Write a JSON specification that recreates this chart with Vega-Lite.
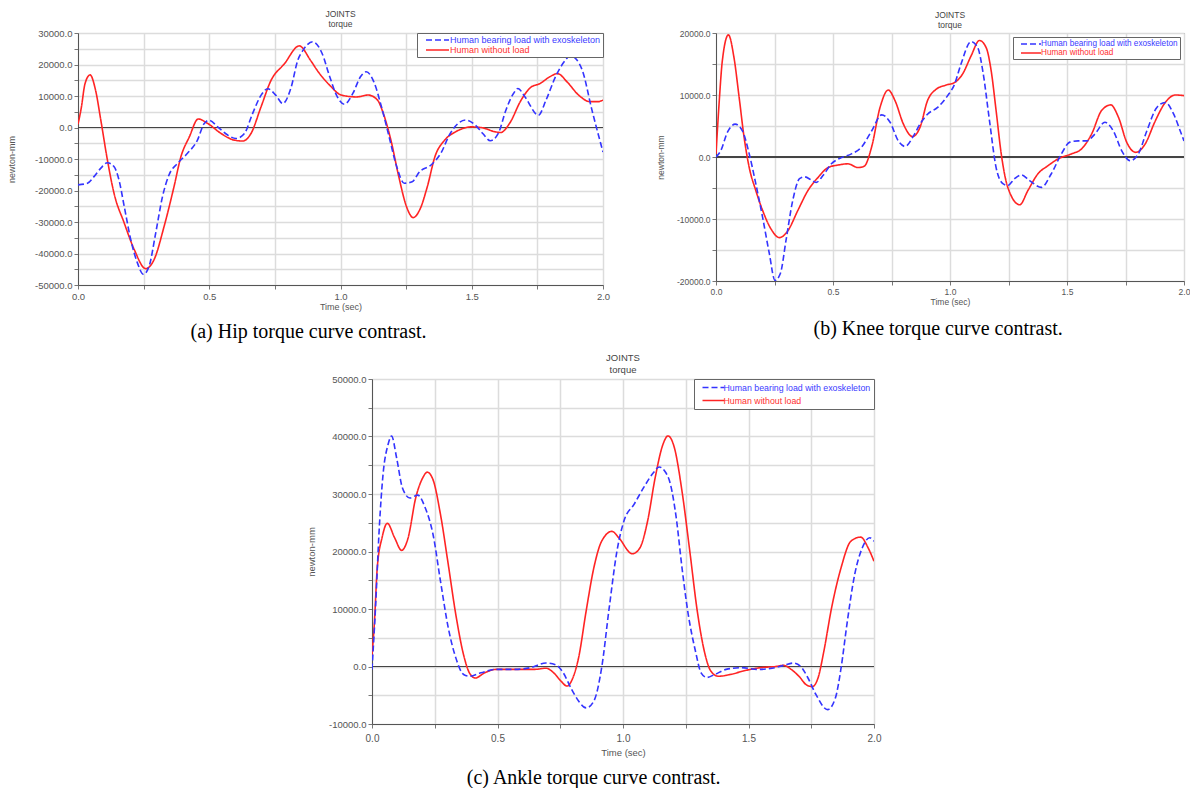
{
  "$schema": "https://vega.github.io/schema/vega-lite/v6.json",
  "background": "white",
  "padding": {"left": 6, "top": 9, "right": 0, "bottom": 0},
  "config": {
    "font": "Liberation Sans",
    "view": {"stroke": "#777", "strokeWidth": 1},
    "axis": {"labelFont": "Liberation Sans", "titleFont": "Liberation Sans", "labelColor": "#555", "titleColor": "#555", "titleFontWeight": "normal", "domainColor": "#555", "tickColor": "#777", "gridColor": "#dcdcdc", "gridWidth": 1.5, "tickSize": 4, "labelFlush": false, "labelOverlap": false, "labelPadding": 2, "grid": true},
    "legend": {"labelFont": "Liberation Sans", "title": null}
  },
  "resolve": {"scale": {"color": "independent", "strokeDash": "independent"}, "legend": {"color": "independent", "strokeDash": "independent"}},
  "datasets": {
    "hip": [
      {"t":0,"v":1000,"series":"Human without load"},{"t":0.012,"v":6000,"series":"Human without load"},{"t":0.027,"v":14000,"series":"Human without load"},{"t":0.046,"v":16700,"series":"Human without load"},{"t":0.067,"v":11800,"series":"Human without load"},{"t":0.087,"v":2300,"series":"Human without load"},{"t":0.112,"v":-10300,"series":"Human without load"},{"t":0.137,"v":-20800,"series":"Human without load"},{"t":0.176,"v":-30300,"series":"Human without load"},{"t":0.214,"v":-38700,"series":"Human without load"},{"t":0.258,"v":-44800,"series":"Human without load"},{"t":0.29,"v":-41900,"series":"Human without load"},{"t":0.328,"v":-31400,"series":"Human without load"},{"t":0.366,"v":-18700,"series":"Human without load"},{"t":0.392,"v":-9300,"series":"Human without load"},{"t":0.424,"v":-3000,"series":"Human without load"},{"t":0.458,"v":2700,"series":"Human without load"},{"t":0.494,"v":1300,"series":"Human without load"},{"t":0.545,"v":-1900,"series":"Human without load"},{"t":0.595,"v":-4000,"series":"Human without load"},{"t":0.627,"v":-4300,"series":"Human without load"},{"t":0.659,"v":-1900,"series":"Human without load"},{"t":0.697,"v":6500,"series":"Human without load"},{"t":0.735,"v":14900,"series":"Human without load"},{"t":0.786,"v":20200,"series":"Human without load"},{"t":0.843,"v":25900,"series":"Human without load"},{"t":0.886,"v":21300,"series":"Human without load"},{"t":0.915,"v":17700,"series":"Human without load"},{"t":0.959,"v":13400,"series":"Human without load"},{"t":1.003,"v":10300,"series":"Human without load"},{"t":1.061,"v":9700,"series":"Human without load"},{"t":1.105,"v":10300,"series":"Human without load"},{"t":1.141,"v":8700,"series":"Human without load"},{"t":1.163,"v":4500,"series":"Human without load"},{"t":1.192,"v":-4000,"series":"Human without load"},{"t":1.222,"v":-15600,"series":"Human without load"},{"t":1.251,"v":-25000,"series":"Human without load"},{"t":1.277,"v":-28600,"series":"Human without load"},{"t":1.302,"v":-26100,"series":"Human without load"},{"t":1.331,"v":-18700,"series":"Human without load"},{"t":1.36,"v":-9200,"series":"Human without load"},{"t":1.397,"v":-4000,"series":"Human without load"},{"t":1.44,"v":-1300,"series":"Human without load"},{"t":1.499,"v":200,"series":"Human without load"},{"t":1.542,"v":-100,"series":"Human without load"},{"t":1.586,"v":-1300,"series":"Human without load"},{"t":1.61,"v":-1600,"series":"Human without load"},{"t":1.644,"v":1300,"series":"Human without load"},{"t":1.688,"v":8700,"series":"Human without load"},{"t":1.724,"v":12700,"series":"Human without load"},{"t":1.761,"v":14000,"series":"Human without load"},{"t":1.797,"v":16100,"series":"Human without load"},{"t":1.827,"v":17100,"series":"Human without load"},{"t":1.863,"v":14500,"series":"Human without load"},{"t":1.907,"v":10300,"series":"Human without load"},{"t":1.95,"v":8200,"series":"Human without load"},{"t":1.98,"v":8200,"series":"Human without load"},{"t":2.0,"v":8700,"series":"Human without load"},
      {"t":0,"v":-18200,"series":"Human bearing load with exoskeleton"},{"t":0.036,"v":-17700,"series":"Human bearing load with exoskeleton"},{"t":0.061,"v":-15600,"series":"Human bearing load with exoskeleton"},{"t":0.087,"v":-12900,"series":"Human bearing load with exoskeleton"},{"t":0.112,"v":-11200,"series":"Human bearing load with exoskeleton"},{"t":0.137,"v":-12400,"series":"Human bearing load with exoskeleton"},{"t":0.156,"v":-16600,"series":"Human bearing load with exoskeleton"},{"t":0.176,"v":-25000,"series":"Human bearing load with exoskeleton"},{"t":0.201,"v":-35600,"series":"Human bearing load with exoskeleton"},{"t":0.226,"v":-42900,"series":"Human bearing load with exoskeleton"},{"t":0.249,"v":-46600,"series":"Human bearing load with exoskeleton"},{"t":0.271,"v":-44000,"series":"Human bearing load with exoskeleton"},{"t":0.296,"v":-33500,"series":"Human bearing load with exoskeleton"},{"t":0.322,"v":-21900,"series":"Human bearing load with exoskeleton"},{"t":0.347,"v":-15000,"series":"Human bearing load with exoskeleton"},{"t":0.379,"v":-11400,"series":"Human bearing load with exoskeleton"},{"t":0.417,"v":-8200,"series":"Human bearing load with exoskeleton"},{"t":0.455,"v":-4000,"series":"Human bearing load with exoskeleton"},{"t":0.481,"v":1300,"series":"Human bearing load with exoskeleton"},{"t":0.5,"v":2300,"series":"Human bearing load with exoskeleton"},{"t":0.532,"v":200,"series":"Human bearing load with exoskeleton"},{"t":0.57,"v":-2400,"series":"Human bearing load with exoskeleton"},{"t":0.602,"v":-3500,"series":"Human bearing load with exoskeleton"},{"t":0.634,"v":-1900,"series":"Human bearing load with exoskeleton"},{"t":0.665,"v":4400,"series":"Human bearing load with exoskeleton"},{"t":0.697,"v":10200,"series":"Human bearing load with exoskeleton"},{"t":0.723,"v":12300,"series":"Human bearing load with exoskeleton"},{"t":0.754,"v":10200,"series":"Human bearing load with exoskeleton"},{"t":0.78,"v":7600,"series":"Human bearing load with exoskeleton"},{"t":0.812,"v":12800,"series":"Human bearing load with exoskeleton"},{"t":0.837,"v":21300,"series":"Human bearing load with exoskeleton"},{"t":0.857,"v":24500,"series":"Human bearing load with exoskeleton"},{"t":0.894,"v":27200,"series":"Human bearing load with exoskeleton"},{"t":0.93,"v":23500,"series":"Human bearing load with exoskeleton"},{"t":0.959,"v":16100,"series":"Human bearing load with exoskeleton"},{"t":0.988,"v":9700,"series":"Human bearing load with exoskeleton"},{"t":1.015,"v":7400,"series":"Human bearing load with exoskeleton"},{"t":1.047,"v":10800,"series":"Human bearing load with exoskeleton"},{"t":1.076,"v":16100,"series":"Human bearing load with exoskeleton"},{"t":1.098,"v":17700,"series":"Human bearing load with exoskeleton"},{"t":1.127,"v":14500,"series":"Human bearing load with exoskeleton"},{"t":1.156,"v":6600,"series":"Human bearing load with exoskeleton"},{"t":1.185,"v":-2900,"series":"Human bearing load with exoskeleton"},{"t":1.214,"v":-12400,"series":"Human bearing load with exoskeleton"},{"t":1.243,"v":-17700,"series":"Human bearing load with exoskeleton"},{"t":1.273,"v":-17200,"series":"Human bearing load with exoskeleton"},{"t":1.302,"v":-14000,"series":"Human bearing load with exoskeleton"},{"t":1.345,"v":-11900,"series":"Human bearing load with exoskeleton"},{"t":1.382,"v":-8200,"series":"Human bearing load with exoskeleton"},{"t":1.418,"v":-1900,"series":"Human bearing load with exoskeleton"},{"t":1.448,"v":1300,"series":"Human bearing load with exoskeleton"},{"t":1.477,"v":2400,"series":"Human bearing load with exoskeleton"},{"t":1.513,"v":800,"series":"Human bearing load with exoskeleton"},{"t":1.542,"v":-1900,"series":"Human bearing load with exoskeleton"},{"t":1.571,"v":-4200,"series":"Human bearing load with exoskeleton"},{"t":1.601,"v":-1900,"series":"Human bearing load with exoskeleton"},{"t":1.63,"v":5500,"series":"Human bearing load with exoskeleton"},{"t":1.659,"v":10800,"series":"Human bearing load with exoskeleton"},{"t":1.676,"v":12400,"series":"Human bearing load with exoskeleton"},{"t":1.703,"v":9700,"series":"Human bearing load with exoskeleton"},{"t":1.754,"v":3900,"series":"Human bearing load with exoskeleton"},{"t":1.783,"v":8700,"series":"Human bearing load with exoskeleton"},{"t":1.819,"v":16100,"series":"Human bearing load with exoskeleton"},{"t":1.856,"v":21300,"series":"Human bearing load with exoskeleton"},{"t":1.875,"v":22800,"series":"Human bearing load with exoskeleton"},{"t":1.9,"v":21500,"series":"Human bearing load with exoskeleton"},{"t":1.921,"v":18200,"series":"Human bearing load with exoskeleton"},{"t":1.958,"v":5500,"series":"Human bearing load with exoskeleton"},{"t":2.0,"v":-7800,"series":"Human bearing load with exoskeleton"}
    ],
    "knee": [
      {"t":0,"v":500,"series":"Human without load"},{"t":0.013,"v":8500,"series":"Human without load"},{"t":0.027,"v":15500,"series":"Human without load"},{"t":0.053,"v":19700,"series":"Human without load"},{"t":0.077,"v":16000,"series":"Human without load"},{"t":0.099,"v":9600,"series":"Human without load"},{"t":0.12,"v":3200,"series":"Human without load"},{"t":0.142,"v":-1700,"series":"Human without load"},{"t":0.17,"v":-5400,"series":"Human without load"},{"t":0.199,"v":-8600,"series":"Human without load"},{"t":0.235,"v":-11600,"series":"Human without load"},{"t":0.271,"v":-13000,"series":"Human without load"},{"t":0.307,"v":-11900,"series":"Human without load"},{"t":0.35,"v":-8600,"series":"Human without load"},{"t":0.393,"v":-5400,"series":"Human without load"},{"t":0.436,"v":-3300,"series":"Human without load"},{"t":0.479,"v":-1700,"series":"Human without load"},{"t":0.521,"v":-1300,"series":"Human without load"},{"t":0.564,"v":-1100,"series":"Human without load"},{"t":0.607,"v":-1700,"series":"Human without load"},{"t":0.633,"v":-1500,"series":"Human without load"},{"t":0.665,"v":1600,"series":"Human without load"},{"t":0.701,"v":8000,"series":"Human without load"},{"t":0.736,"v":10800,"series":"Human without load"},{"t":0.765,"v":9100,"series":"Human without load"},{"t":0.801,"v":5300,"series":"Human without load"},{"t":0.84,"v":3300,"series":"Human without load"},{"t":0.872,"v":4800,"series":"Human without load"},{"t":0.904,"v":9100,"series":"Human without load"},{"t":0.94,"v":10900,"series":"Human without load"},{"t":0.983,"v":11600,"series":"Human without load"},{"t":1.019,"v":12000,"series":"Human without load"},{"t":1.054,"v":13400,"series":"Human without load"},{"t":1.09,"v":16300,"series":"Human without load"},{"t":1.126,"v":18800,"series":"Human without load"},{"t":1.155,"v":17600,"series":"Human without load"},{"t":1.176,"v":13900,"series":"Human without load"},{"t":1.197,"v":7500,"series":"Human without load"},{"t":1.219,"v":500,"series":"Human without load"},{"t":1.247,"v":-4900,"series":"Human without load"},{"t":1.298,"v":-7700,"series":"Human without load"},{"t":1.333,"v":-5400,"series":"Human without load"},{"t":1.376,"v":-2700,"series":"Human without load"},{"t":1.419,"v":-1400,"series":"Human without load"},{"t":1.462,"v":-300,"series":"Human without load"},{"t":1.519,"v":500,"series":"Human without load"},{"t":1.562,"v":1300,"series":"Human without load"},{"t":1.605,"v":3700,"series":"Human without load"},{"t":1.648,"v":7500,"series":"Human without load"},{"t":1.687,"v":8400,"series":"Human without load"},{"t":1.72,"v":6400,"series":"Human without load"},{"t":1.755,"v":2400,"series":"Human without load"},{"t":1.794,"v":750,"series":"Human without load"},{"t":1.834,"v":2100,"series":"Human without load"},{"t":1.877,"v":5800,"series":"Human without load"},{"t":1.92,"v":8800,"series":"Human without load"},{"t":1.963,"v":10000,"series":"Human without load"},{"t":2.0,"v":9900,"series":"Human without load"},
      {"t":0,"v":0,"series":"Human bearing load with exoskeleton"},{"t":0.02,"v":1000,"series":"Human bearing load with exoskeleton"},{"t":0.049,"v":4000,"series":"Human bearing load with exoskeleton"},{"t":0.082,"v":5300,"series":"Human bearing load with exoskeleton"},{"t":0.113,"v":4200,"series":"Human bearing load with exoskeleton"},{"t":0.142,"v":500,"series":"Human bearing load with exoskeleton"},{"t":0.17,"v":-4300,"series":"Human bearing load with exoskeleton"},{"t":0.199,"v":-9700,"series":"Human bearing load with exoskeleton"},{"t":0.228,"v":-15600,"series":"Human bearing load with exoskeleton"},{"t":0.252,"v":-19900,"series":"Human bearing load with exoskeleton"},{"t":0.275,"v":-18800,"series":"Human bearing load with exoskeleton"},{"t":0.299,"v":-13500,"series":"Human bearing load with exoskeleton"},{"t":0.328,"v":-7000,"series":"Human bearing load with exoskeleton"},{"t":0.357,"v":-3500,"series":"Human bearing load with exoskeleton"},{"t":0.378,"v":-3200,"series":"Human bearing load with exoskeleton"},{"t":0.407,"v":-3700,"series":"Human bearing load with exoskeleton"},{"t":0.428,"v":-4100,"series":"Human bearing load with exoskeleton"},{"t":0.457,"v":-3000,"series":"Human bearing load with exoskeleton"},{"t":0.493,"v":-1100,"series":"Human bearing load with exoskeleton"},{"t":0.536,"v":-100,"series":"Human bearing load with exoskeleton"},{"t":0.579,"v":500,"series":"Human bearing load with exoskeleton"},{"t":0.622,"v":1600,"series":"Human bearing load with exoskeleton"},{"t":0.665,"v":4200,"series":"Human bearing load with exoskeleton"},{"t":0.708,"v":6800,"series":"Human bearing load with exoskeleton"},{"t":0.744,"v":5600,"series":"Human bearing load with exoskeleton"},{"t":0.779,"v":2600,"series":"Human bearing load with exoskeleton"},{"t":0.808,"v":1700,"series":"Human bearing load with exoskeleton"},{"t":0.844,"v":3400,"series":"Human bearing load with exoskeleton"},{"t":0.875,"v":5500,"series":"Human bearing load with exoskeleton"},{"t":0.904,"v":6900,"series":"Human bearing load with exoskeleton"},{"t":0.947,"v":8000,"series":"Human bearing load with exoskeleton"},{"t":0.99,"v":9900,"series":"Human bearing load with exoskeleton"},{"t":1.019,"v":11700,"series":"Human bearing load with exoskeleton"},{"t":1.047,"v":15000,"series":"Human bearing load with exoskeleton"},{"t":1.09,"v":18600,"series":"Human bearing load with exoskeleton"},{"t":1.119,"v":17600,"series":"Human bearing load with exoskeleton"},{"t":1.14,"v":13900,"series":"Human bearing load with exoskeleton"},{"t":1.169,"v":5800,"series":"Human bearing load with exoskeleton"},{"t":1.197,"v":-1700,"series":"Human bearing load with exoskeleton"},{"t":1.226,"v":-4300,"series":"Human bearing load with exoskeleton"},{"t":1.247,"v":-4600,"series":"Human bearing load with exoskeleton"},{"t":1.276,"v":-3500,"series":"Human bearing load with exoskeleton"},{"t":1.305,"v":-2900,"series":"Human bearing load with exoskeleton"},{"t":1.34,"v":-3800,"series":"Human bearing load with exoskeleton"},{"t":1.391,"v":-4900,"series":"Human bearing load with exoskeleton"},{"t":1.433,"v":-2700,"series":"Human bearing load with exoskeleton"},{"t":1.476,"v":500,"series":"Human bearing load with exoskeleton"},{"t":1.512,"v":2400,"series":"Human bearing load with exoskeleton"},{"t":1.548,"v":2600,"series":"Human bearing load with exoskeleton"},{"t":1.584,"v":2600,"series":"Human bearing load with exoskeleton"},{"t":1.619,"v":3700,"series":"Human bearing load with exoskeleton"},{"t":1.662,"v":5600,"series":"Human bearing load with exoskeleton"},{"t":1.698,"v":4200,"series":"Human bearing load with exoskeleton"},{"t":1.734,"v":1000,"series":"Human bearing load with exoskeleton"},{"t":1.77,"v":-600,"series":"Human bearing load with exoskeleton"},{"t":1.805,"v":500,"series":"Human bearing load with exoskeleton"},{"t":1.841,"v":4200,"series":"Human bearing load with exoskeleton"},{"t":1.884,"v":8000,"series":"Human bearing load with exoskeleton"},{"t":1.92,"v":8800,"series":"Human bearing load with exoskeleton"},{"t":1.956,"v":6900,"series":"Human bearing load with exoskeleton"},{"t":1.984,"v":4200,"series":"Human bearing load with exoskeleton"},{"t":2.0,"v":2600,"series":"Human bearing load with exoskeleton"}
    ],
    "ankle": [
      {"t":0,"v":2000,"series":"Human without load"},{"t":0.009,"v":7200,"series":"Human without load"},{"t":0.021,"v":17200,"series":"Human without load"},{"t":0.04,"v":22400,"series":"Human without load"},{"t":0.061,"v":24900,"series":"Human without load"},{"t":0.09,"v":22400,"series":"Human without load"},{"t":0.118,"v":20200,"series":"Human without load"},{"t":0.144,"v":22400,"series":"Human without load"},{"t":0.174,"v":29300,"series":"Human without load"},{"t":0.202,"v":32800,"series":"Human without load"},{"t":0.22,"v":33800,"series":"Human without load"},{"t":0.243,"v":32500,"series":"Human without load"},{"t":0.273,"v":26400,"series":"Human without load"},{"t":0.304,"v":17700,"series":"Human without load"},{"t":0.334,"v":9000,"series":"Human without load"},{"t":0.365,"v":2000,"series":"Human without load"},{"t":0.388,"v":-1100,"series":"Human without load"},{"t":0.411,"v":-2000,"series":"Human without load"},{"t":0.449,"v":-1100,"series":"Human without load"},{"t":0.495,"v":-500,"series":"Human without load"},{"t":0.571,"v":-500,"series":"Human without load"},{"t":0.647,"v":-500,"series":"Human without load"},{"t":0.693,"v":-300,"series":"Human without load"},{"t":0.724,"v":-1100,"series":"Human without load"},{"t":0.754,"v":-2600,"series":"Human without load"},{"t":0.777,"v":-3400,"series":"Human without load"},{"t":0.8,"v":-2000,"series":"Human without load"},{"t":0.823,"v":1500,"series":"Human without load"},{"t":0.853,"v":9600,"series":"Human without load"},{"t":0.884,"v":17200,"series":"Human without load"},{"t":0.915,"v":21800,"series":"Human without load"},{"t":0.956,"v":23500,"series":"Human without load"},{"t":0.983,"v":22400,"series":"Human without load"},{"t":1.037,"v":19600,"series":"Human without load"},{"t":1.067,"v":20600,"series":"Human without load"},{"t":1.098,"v":25300,"series":"Human without load"},{"t":1.128,"v":32800,"series":"Human without load"},{"t":1.159,"v":38600,"series":"Human without load"},{"t":1.179,"v":40100,"series":"Human without load"},{"t":1.205,"v":38000,"series":"Human without load"},{"t":1.235,"v":30500,"series":"Human without load"},{"t":1.266,"v":20100,"series":"Human without load"},{"t":1.296,"v":9600,"series":"Human without load"},{"t":1.327,"v":2100,"series":"Human without load"},{"t":1.35,"v":-800,"series":"Human without load"},{"t":1.38,"v":-1700,"series":"Human without load"},{"t":1.426,"v":-1400,"series":"Human without load"},{"t":1.487,"v":-700,"series":"Human without load"},{"t":1.548,"v":-200,"series":"Human without load"},{"t":1.609,"v":0,"series":"Human without load"},{"t":1.64,"v":200,"series":"Human without load"},{"t":1.67,"v":-500,"series":"Human without load"},{"t":1.701,"v":-1700,"series":"Human without load"},{"t":1.731,"v":-3200,"series":"Human without load"},{"t":1.754,"v":-3500,"series":"Human without load"},{"t":1.777,"v":-2000,"series":"Human without load"},{"t":1.8,"v":2600,"series":"Human without load"},{"t":1.831,"v":10200,"series":"Human without load"},{"t":1.869,"v":17200,"series":"Human without load"},{"t":1.908,"v":21800,"series":"Human without load"},{"t":1.947,"v":22500,"series":"Human without load"},{"t":1.977,"v":20600,"series":"Human without load"},{"t":2.0,"v":18300,"series":"Human without load"},
      {"t":0,"v":-500,"series":"Human bearing load with exoskeleton"},{"t":0.014,"v":10200,"series":"Human bearing load with exoskeleton"},{"t":0.029,"v":24100,"series":"Human bearing load with exoskeleton"},{"t":0.044,"v":33400,"series":"Human bearing load with exoskeleton"},{"t":0.064,"v":38600,"series":"Human bearing load with exoskeleton"},{"t":0.078,"v":40100,"series":"Human bearing load with exoskeleton"},{"t":0.098,"v":36300,"series":"Human bearing load with exoskeleton"},{"t":0.121,"v":31100,"series":"Human bearing load with exoskeleton"},{"t":0.151,"v":29300,"series":"Human bearing load with exoskeleton"},{"t":0.182,"v":29800,"series":"Human bearing load with exoskeleton"},{"t":0.212,"v":27600,"series":"Human bearing load with exoskeleton"},{"t":0.243,"v":23000,"series":"Human bearing load with exoskeleton"},{"t":0.273,"v":14800,"series":"Human bearing load with exoskeleton"},{"t":0.304,"v":6700,"series":"Human bearing load with exoskeleton"},{"t":0.334,"v":1500,"series":"Human bearing load with exoskeleton"},{"t":0.365,"v":-1400,"series":"Human bearing load with exoskeleton"},{"t":0.388,"v":-1700,"series":"Human bearing load with exoskeleton"},{"t":0.434,"v":-1100,"series":"Human bearing load with exoskeleton"},{"t":0.495,"v":-500,"series":"Human bearing load with exoskeleton"},{"t":0.571,"v":-500,"series":"Human bearing load with exoskeleton"},{"t":0.632,"v":-200,"series":"Human bearing load with exoskeleton"},{"t":0.693,"v":600,"series":"Human bearing load with exoskeleton"},{"t":0.731,"v":300,"series":"Human bearing load with exoskeleton"},{"t":0.762,"v":-1100,"series":"Human bearing load with exoskeleton"},{"t":0.792,"v":-3700,"series":"Human bearing load with exoskeleton"},{"t":0.823,"v":-6000,"series":"Human bearing load with exoskeleton"},{"t":0.853,"v":-7200,"series":"Human bearing load with exoskeleton"},{"t":0.884,"v":-6000,"series":"Human bearing load with exoskeleton"},{"t":0.915,"v":-200,"series":"Human bearing load with exoskeleton"},{"t":0.945,"v":10200,"series":"Human bearing load with exoskeleton"},{"t":0.976,"v":20100,"series":"Human bearing load with exoskeleton"},{"t":1.006,"v":25600,"series":"Human bearing load with exoskeleton"},{"t":1.044,"v":28200,"series":"Human bearing load with exoskeleton"},{"t":1.082,"v":31100,"series":"Human bearing load with exoskeleton"},{"t":1.121,"v":33700,"series":"Human bearing load with exoskeleton"},{"t":1.144,"v":34700,"series":"Human bearing load with exoskeleton"},{"t":1.166,"v":34000,"series":"Human bearing load with exoskeleton"},{"t":1.189,"v":31700,"series":"Human bearing load with exoskeleton"},{"t":1.212,"v":25900,"series":"Human bearing load with exoskeleton"},{"t":1.235,"v":17200,"series":"Human bearing load with exoskeleton"},{"t":1.258,"v":9600,"series":"Human bearing load with exoskeleton"},{"t":1.289,"v":2600,"series":"Human bearing load with exoskeleton"},{"t":1.311,"v":-1100,"series":"Human bearing load with exoskeleton"},{"t":1.334,"v":-1900,"series":"Human bearing load with exoskeleton"},{"t":1.365,"v":-1400,"series":"Human bearing load with exoskeleton"},{"t":1.411,"v":-500,"series":"Human bearing load with exoskeleton"},{"t":1.472,"v":-200,"series":"Human bearing load with exoskeleton"},{"t":1.533,"v":-500,"series":"Human bearing load with exoskeleton"},{"t":1.594,"v":-300,"series":"Human bearing load with exoskeleton"},{"t":1.64,"v":200,"series":"Human bearing load with exoskeleton"},{"t":1.678,"v":600,"series":"Human bearing load with exoskeleton"},{"t":1.708,"v":0,"series":"Human bearing load with exoskeleton"},{"t":1.737,"v":-2000,"series":"Human bearing load with exoskeleton"},{"t":1.769,"v":-4900,"series":"Human bearing load with exoskeleton"},{"t":1.815,"v":-7500,"series":"Human bearing load with exoskeleton"},{"t":1.846,"v":-5500,"series":"Human bearing load with exoskeleton"},{"t":1.869,"v":-200,"series":"Human bearing load with exoskeleton"},{"t":1.892,"v":7300,"series":"Human bearing load with exoskeleton"},{"t":1.923,"v":16000,"series":"Human bearing load with exoskeleton"},{"t":1.953,"v":20600,"series":"Human bearing load with exoskeleton"},{"t":1.983,"v":22400,"series":"Human bearing load with exoskeleton"},{"t":2.0,"v":21800,"series":"Human bearing load with exoskeleton"}
    ]
  },
  "vconcat": [
    {
      "resolve": {"scale": {"color": "independent", "strokeDash": "independent"}, "legend": {"color": "independent", "strokeDash": "independent"}},
      "hconcat": [
        {
          "resolve": {"scale": {"color": "independent", "strokeDash": "independent"}, "legend": {"color": "independent", "strokeDash": "independent"}},
          "title": {"text": "(a) Hip torque curve contrast.", "orient": "bottom", "anchor": "middle", "font": "Liberation Serif", "fontSize": 20, "fontWeight": "normal", "color": "#000", "offset": 10},
          "vconcat": [
            {
              "width": 525, "height": 252,
              "title": {"text": "JOINTS", "subtitle": "torque", "frame": "group", "anchor": "middle", "font": "Liberation Sans", "fontSize": 8.5, "subtitleFont": "Liberation Sans", "subtitleFontSize": 8.5, "fontWeight": "normal", "color": "#444", "subtitleColor": "#444", "subtitlePadding": 1, "offset": 0},
              "data": {"name": "hip"},
              "layer": [
                {"mark": {"type": "rule", "color": "#444", "strokeWidth": 1}, "encoding": {"y": {"datum": 0, "type": "quantitative", "scale": {"domain": [-50000, 30000], "nice": false}, "axis": {"title": "newton-mm", "grid": true, "labelOverlap": false, "values": [-50000, -45000, -40000, -35000, -30000, -25000, -20000, -15000, -10000, -5000, 0, 5000, 10000, 15000, 20000, 25000, 30000], "labelExpr": "datum.value % 10000 == 0 ? (datum.value < 0 ? '-' : '') + format(abs(datum.value), '.1f') : ''", "labelFontSize": 9.5, "titleFontSize": 9, "titlePadding": 18}}}},
                {
                  "mark": {"type": "line", "interpolate": "monotone", "strokeWidth": 1.6, "clip": true},
                  "encoding": {
                    "x": {"field": "t", "type": "quantitative", "scale": {"domain": [0, 2], "nice": false}, "axis": {"title": "Time (sec)", "grid": true, "labelOverlap": false, "values": [0, 0.25, 0.5, 0.75, 1, 1.25, 1.5, 1.75, 2], "labelExpr": "datum.value % 0.5 == 0 ? format(datum.value, '.1f') : ''", "labelFontSize": 9.5, "titleFontSize": 9, "titlePadding": 2}},
                    "y": {"field": "v", "type": "quantitative", "scale": {"domain": [-50000, 30000], "nice": false}, "axis": {"title": "newton-mm", "grid": true, "labelOverlap": false, "values": [-50000, -45000, -40000, -35000, -30000, -25000, -20000, -15000, -10000, -5000, 0, 5000, 10000, 15000, 20000, 25000, 30000], "labelExpr": "datum.value % 10000 == 0 ? (datum.value < 0 ? '-' : '') + format(abs(datum.value), '.1f') : ''", "labelFontSize": 9.5, "titleFontSize": 9, "titlePadding": 18}},
                    "color": {"field": "series", "type": "nominal", "scale": {"domain": ["Human bearing load with exoskeleton", "Human without load"], "range": ["#3434ff", "#ff2424"]}, "legend": {"orient": "top-right", "offset": 0, "fillColor": "white", "strokeColor": "#666", "padding": 2, "labelFontSize": 9, "labelLimit": 300, "symbolType": "M0.5,0H6.25", "symbolSize": 64, "symbolStrokeWidth": 1.6, "labelOffset": 21, "rowPadding": 0, "encode": {"labels": {"update": {"fill": {"signal": "datum.label === 'Human without load' ? '#ff3030' : '#3a3aff'"}}}}}},
                    "strokeDash": {"field": "series", "type": "nominal", "scale": {"domain": ["Human bearing load with exoskeleton", "Human without load"], "range": [[6, 3], [1, 0]]}, "legend": {"orient": "top-right", "offset": 0, "fillColor": "white", "strokeColor": "#666", "padding": 2, "labelFontSize": 9, "labelLimit": 300, "symbolType": "M0.5,0H6.25", "symbolSize": 64, "symbolStrokeWidth": 1.6, "labelOffset": 21, "rowPadding": 0, "encode": {"labels": {"update": {"fill": {"signal": "datum.label === 'Human without load' ? '#ff3030' : '#3a3aff'"}}}}}}
                  }
                }
              ]
            }
          ]
        },
        {
          "resolve": {"scale": {"color": "independent", "strokeDash": "independent"}, "legend": {"color": "independent", "strokeDash": "independent"}},
          "title": {"text": "(b) Knee torque curve contrast.", "orient": "bottom", "anchor": "middle", "font": "Liberation Serif", "fontSize": 20, "fontWeight": "normal", "color": "#000", "offset": 12, "dx": 15},
          "vconcat": [
            {
              "width": 468, "height": 248,
              "title": {"text": "JOINTS", "subtitle": "torque", "frame": "group", "anchor": "middle", "font": "Liberation Sans", "fontSize": 8.5, "subtitleFont": "Liberation Sans", "subtitleFontSize": 8.5, "fontWeight": "normal", "color": "#444", "subtitleColor": "#444", "subtitlePadding": 1, "offset": 0},
              "data": {"name": "knee"},
              "layer": [
                {"mark": {"type": "rule", "color": "#444", "strokeWidth": 1}, "encoding": {"y": {"datum": 0, "type": "quantitative", "scale": {"domain": [-20000, 20000], "nice": false}, "axis": {"title": "newton-mm", "grid": true, "labelOverlap": false, "values": [-20000, -15000, -10000, -5000, 0, 5000, 10000, 15000, 20000], "labelExpr": "datum.value % 10000 == 0 ? (datum.value < 0 ? '-' : '') + format(abs(datum.value), '.1f') : ''", "labelFontSize": 8.5, "titleFontSize": 8.5, "titlePadding": 11}}}},
                {
                  "mark": {"type": "line", "interpolate": "monotone", "strokeWidth": 1.6, "clip": true},
                  "encoding": {
                    "x": {"field": "t", "type": "quantitative", "scale": {"domain": [0, 2], "nice": false}, "axis": {"title": "Time (sec)", "grid": true, "labelOverlap": false, "values": [0, 0.25, 0.5, 0.75, 1, 1.25, 1.5, 1.75, 2], "labelExpr": "datum.value % 0.5 == 0 ? format(datum.value, '.1f') : ''", "labelFontSize": 8.5, "titleFontSize": 8.5, "titlePadding": 2}},
                    "y": {"field": "v", "type": "quantitative", "scale": {"domain": [-20000, 20000], "nice": false}, "axis": {"title": "newton-mm", "grid": true, "labelOverlap": false, "values": [-20000, -15000, -10000, -5000, 0, 5000, 10000, 15000, 20000], "labelExpr": "datum.value % 10000 == 0 ? (datum.value < 0 ? '-' : '') + format(abs(datum.value), '.1f') : ''", "labelFontSize": 8.5, "titleFontSize": 8.5, "titlePadding": 11}},
                    "color": {"field": "series", "type": "nominal", "scale": {"domain": ["Human bearing load with exoskeleton", "Human without load"], "range": ["#3434ff", "#ff2424"]}, "legend": {"orient": "top-right", "offset": 4, "fillColor": "white", "strokeColor": "#666", "padding": 2, "labelFontSize": 8.2, "labelLimit": 300, "symbolType": "M0.25,0H5.25", "symbolSize": 64, "symbolStrokeWidth": 1.6, "labelOffset": 16, "rowPadding": 0, "encode": {"labels": {"update": {"fill": {"signal": "datum.label === 'Human without load' ? '#ff3030' : '#3a3aff'"}}}}}},
                    "strokeDash": {"field": "series", "type": "nominal", "scale": {"domain": ["Human bearing load with exoskeleton", "Human without load"], "range": [[6, 3], [1, 0]]}, "legend": {"orient": "top-right", "offset": 4, "fillColor": "white", "strokeColor": "#666", "padding": 2, "labelFontSize": 8.2, "labelLimit": 300, "symbolType": "M0.25,0H5.25", "symbolSize": 64, "symbolStrokeWidth": 1.6, "labelOffset": 16, "rowPadding": 0, "encode": {"labels": {"update": {"fill": {"signal": "datum.label === 'Human without load' ? '#ff3030' : '#3a3aff'"}}}}}}
                  }
                }
              ]
            }
          ]
        }
      ],
      "spacing": 44
    },
    {
      "resolve": {"scale": {"color": "independent", "strokeDash": "independent"}, "legend": {"color": "independent", "strokeDash": "independent"}},
      "spacing": 0,
      "hconcat": [
        {"width": 227, "height": 10, "data": {"values": [{}]}, "mark": {"type": "point", "opacity": 0}, "view": {"stroke": null}},
        {
          "resolve": {"scale": {"color": "independent", "strokeDash": "independent"}, "legend": {"color": "independent", "strokeDash": "independent"}},
          "title": {"text": "(c) Ankle torque curve contrast.", "orient": "bottom", "anchor": "middle", "font": "Liberation Serif", "fontSize": 20, "fontWeight": "normal", "color": "#000", "offset": 11},
          "vconcat": [
            {
              "width": 502, "height": 345,
              "title": {"text": "JOINTS", "subtitle": "torque", "frame": "group", "anchor": "middle", "font": "Liberation Sans", "fontSize": 9.5, "subtitleFont": "Liberation Sans", "subtitleFontSize": 9.5, "fontWeight": "normal", "color": "#444", "subtitleColor": "#444", "subtitlePadding": 2, "offset": 0},
              "data": {"name": "ankle"},
              "layer": [
                {"mark": {"type": "rule", "color": "#444", "strokeWidth": 1}, "encoding": {"y": {"datum": 0, "type": "quantitative", "scale": {"domain": [-10000, 50000], "nice": false}, "axis": {"title": "newton-mm", "grid": true, "labelOverlap": false, "values": [-10000, -5000, 0, 5000, 10000, 15000, 20000, 25000, 30000, 35000, 40000, 45000, 50000], "labelExpr": "datum.value % 10000 == 0 ? (datum.value < 0 ? '-' : '') + format(abs(datum.value), '.1f') : ''", "labelFontSize": 9.5, "titleFontSize": 9.5, "titlePadding": 12}}}},
                {
                  "mark": {"type": "line", "interpolate": "monotone", "strokeWidth": 1.6, "clip": true},
                  "encoding": {
                    "x": {"field": "t", "type": "quantitative", "scale": {"domain": [0, 2], "nice": false}, "axis": {"title": "Time (sec)", "grid": true, "labelOverlap": false, "values": [0, 0.25, 0.5, 0.75, 1, 1.25, 1.5, 1.75, 2], "labelExpr": "datum.value % 0.5 == 0 ? format(datum.value, '.1f') : ''", "labelFontSize": 10, "titleFontSize": 9.5, "labelPadding": 5, "titlePadding": 4}},
                    "y": {"field": "v", "type": "quantitative", "scale": {"domain": [-10000, 50000], "nice": false}, "axis": {"title": "newton-mm", "grid": true, "labelOverlap": false, "values": [-10000, -5000, 0, 5000, 10000, 15000, 20000, 25000, 30000, 35000, 40000, 45000, 50000], "labelExpr": "datum.value % 10000 == 0 ? (datum.value < 0 ? '-' : '') + format(abs(datum.value), '.1f') : ''", "labelFontSize": 9.5, "titleFontSize": 9.5, "titlePadding": 12}},
                    "color": {"field": "series", "type": "nominal", "scale": {"domain": ["Human bearing load with exoskeleton", "Human without load"], "range": ["#3434ff", "#ff2424"]}, "legend": {"orient": "top-right", "offset": 0, "fillColor": "white", "strokeColor": "#666", "padding": 3.5, "labelFontSize": 8.8, "labelLimit": 300, "symbolType": "M0,0H5.5", "symbolSize": 64, "symbolStrokeWidth": 1.6, "labelOffset": 16, "rowPadding": 3, "encode": {"labels": {"update": {"fill": {"signal": "datum.label === 'Human without load' ? '#ff3030' : '#3a3aff'"}}}}}},
                    "strokeDash": {"field": "series", "type": "nominal", "scale": {"domain": ["Human bearing load with exoskeleton", "Human without load"], "range": [[6, 3], [1, 0]]}, "legend": {"orient": "top-right", "offset": 0, "fillColor": "white", "strokeColor": "#666", "padding": 3.5, "labelFontSize": 8.8, "labelLimit": 300, "symbolType": "M0,0H5.5", "symbolSize": 64, "symbolStrokeWidth": 1.6, "labelOffset": 16, "rowPadding": 3, "encode": {"labels": {"update": {"fill": {"signal": "datum.label === 'Human without load' ? '#ff3030' : '#3a3aff'"}}}}}}
                  }
                }
              ]
            }
          ]
        }
      ]
    }
  ],
  "spacing": 10
}
